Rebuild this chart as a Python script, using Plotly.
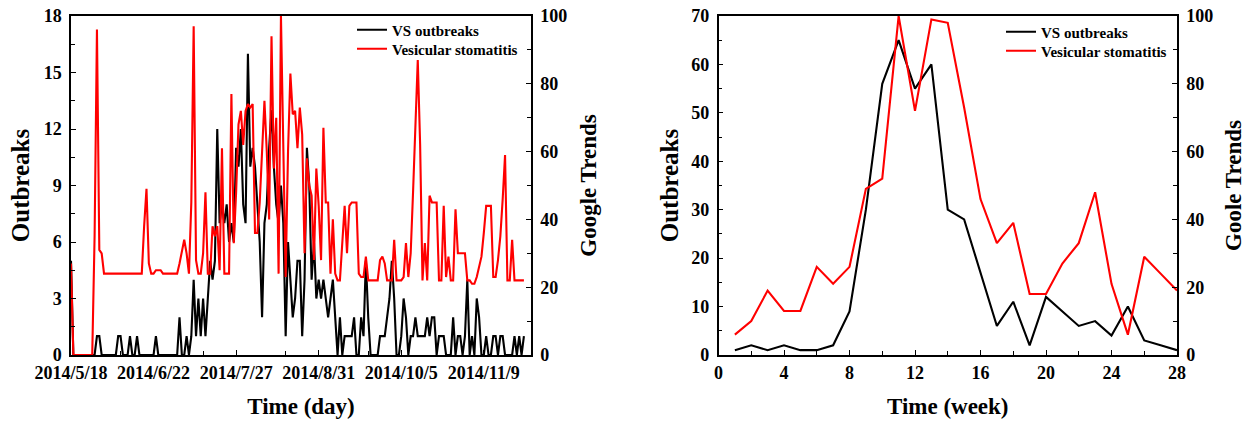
import pandas as pd
import plotly.graph_objects as go

# ---------------- data: left panel (daily, starting 2014-05-18) ----------------
start_date = "2014-05-18"
outbreaks_daily = [
    5, 0, 0, 0, 0, 0, 0, 0, 0, 0,          # d0-9
    0, 1, 1, 0, 0, 0, 0, 0, 0, 0,          # d10-19
    1, 1, 0, 0, 0, 1, 0, 0, 1, 0,          # d20-29
    0, 0, 0, 0, 0, 0, 1, 0, 0, 0,          # d30-39
    0, 0, 0, 0, 0, 0, 2, 0, 0, 1,          # d40-49
    0, 1, 4, 1, 3, 1, 3, 1, 3, 5,          # d50-59
    4, 5, 12, 7, 8, 7, 8, 6, 7, 6,         # d60-69
    11, 10, 12, 8, 7, 16, 10, 11, 10, 8,   # d70-79
    6, 2, 7, 8, 11, 13, 10, 8, 7, 9,       # d80-89
    7, 1, 6, 4, 2, 3, 5, 5, 1, 4,          # d90-99
    11, 9, 4, 6, 3, 4, 3, 4, 3, 2,         # d100-109
    3, 4, 2, 0, 2, 0, 1, 1, 1, 1,          # d110-119
    2, 0, 0, 2, 1, 5, 2, 0, 0, 0,          # d120-129
    0, 1, 1, 1, 2, 3, 5, 3, 0, 0,          # d130-139
    1, 3, 2, 0, 1, 1, 2, 1, 1, 1,          # d140-149
    1, 2, 1, 2, 2, 0, 1, 1, 1, 0,          # d150-159
    0, 0, 2, 0, 1, 1, 0, 1, 4, 0,          # d160-169
    1, 0, 3, 2, 0, 0, 1, 0, 0, 1,          # d170-179
    1, 0, 1, 1, 0, 0, 0, 0, 1, 0,          # d180-189
    1, 0, 1,                               # d190-192
]
trends_daily = [
    27, 0, 0, 0, 0, 0, 0, 0, 0, 0,         # d0-9
    35, 96, 31, 30, 24, 24, 24, 24, 24, 24,  # d10-19
    24, 24, 24, 24, 24, 24, 24, 24, 24, 24,  # d20-29
    24, 38, 49, 27, 24, 24, 25, 25, 25, 24,  # d30-39
    24, 24, 24, 24, 24, 24, 27, 31, 34, 30,  # d40-49
    24, 45, 97, 28, 24, 24, 30, 48, 24, 24,  # d50-59
    38, 35, 38, 25, 61, 24, 24, 24, 77, 33,  # d60-69
    48, 68, 72, 62, 72, 74, 73, 74, 36, 36,  # d70-79
    45, 60, 75, 60, 40, 94, 55, 70, 24, 100,  # d80-89
    55, 23, 60, 83, 71, 72, 61, 73, 65, 30,  # d90-99
    58, 50, 47, 28, 55, 44, 28, 67, 45, 45,  # d100-109
    24, 40, 24, 22, 22, 35, 44, 30, 44, 45,  # d110-119
    45, 45, 24, 23, 23, 29, 22, 22, 22, 22,  # d120-129
    22, 28, 29, 27, 22, 22, 22, 34, 22, 22,  # d130-139
    22, 23, 33, 23, 30, 48, 66, 87, 62, 22,  # d140-149
    33, 22, 47, 45, 45, 45, 22, 22, 44, 23,  # d150-159
    29, 22, 22, 43, 30, 30, 30, 30, 22, 22,  # d160-169
    21, 21, 23, 26, 29, 36, 44, 44, 44, 23,  # d170-179
    23, 28, 35, 46, 59, 22, 22, 34, 22, 22,  # d180-189
    22, 22, 22,                            # d190-192
]
date_tick_vals = ["2014-05-18", "2014-06-22", "2014-07-27", "2014-08-31", "2014-10-05", "2014-11-09"]
date_tick_text = ["2014/5/18", "2014/6/22", "2014/7/27", "2014/8/31", "2014/10/5", "2014/11/9"]
date_minor_vals = ["2014-06-08", "2014-07-13", "2014-08-17", "2014-09-21", "2014-10-26"]
date_range = ["2014-05-18", "2014-11-29"]

# ---------------- data: right panel (weekly) ----------------
weeks = list(range(1, 29))
outbreaks_weekly = [1, 2, 1, 2, 1, 1, 2, 9, 30, 56, 65, 55, 60, 30,
                    28, 17, 6, 11, 2, 12, 9, 6, 7, 4, 10, 3, 2, 1]
trends_weekly = [6, 10, 19, 13, 13, 26, 21, 26, 49, 52, 100, 72, 99, 98,
                 73, 46, 33, 39, 18, 18, 27, 33, 48, 21, 6, 29, 24, 19]

dates = pd.date_range(start_date, periods=len(outbreaks_daily), freq="D")
assert len(outbreaks_daily) == len(trends_daily)

FONT = "Liberation Serif"
W, H = 1251, 421
BLACK = "#000000"
RED = "#FF0000"
LW = 2.1

fig = go.Figure()
fig.add_trace(go.Scatter(x=dates, y=outbreaks_daily, mode="lines", name="VS outbreaks",
                         line=dict(color=BLACK, width=LW), xaxis="x", yaxis="y", legend="legend"))
fig.add_trace(go.Scatter(x=dates, y=trends_daily, mode="lines", name="Vesicular stomatitis",
                         line=dict(color=RED, width=LW), xaxis="x", yaxis="y2", legend="legend2"))
fig.add_trace(go.Scatter(x=weeks, y=outbreaks_weekly, mode="lines", name="VS outbreaks",
                         line=dict(color=BLACK, width=LW), xaxis="x3", yaxis="y3", legend="legend3"))
fig.add_trace(go.Scatter(x=weeks, y=trends_weekly, mode="lines", name="Vesicular stomatitis",
                         line=dict(color=RED, width=LW), xaxis="x3", yaxis="y4", legend="legend4"))

tickfont = dict(family=FONT, size=18, color=BLACK, weight="bold")
titlefont = dict(family=FONT, size=23, color=BLACK, weight="bold")
titlefont_big = dict(family=FONT, size=25, color=BLACK, weight="bold")
common = dict(showline=True, linecolor=BLACK, linewidth=1.5, ticks="inside", ticklen=5,
              tickwidth=1.3, tickcolor=BLACK, showgrid=False, zeroline=False,
              automargin=False, ticklabeloverflow="allow", tickfont=tickfont)
minor_style = dict(ticks="inside", ticklen=4, tickcolor=BLACK, tickwidth=1.2, showgrid=False)

# pixel geometry of the two plot areas
top_px, bottom_px = 16, 355
xl0, xl1 = 71 / W, 531 / W
xr0, xr1 = 718.5 / W, 1177 / W
plot_h = bottom_px - top_px


def py(page_y):
    return 1 - (page_y - top_px) / plot_h


legend_font = dict(family=FONT, size=15, color=BLACK, weight="bold")


def legend_at(page_x_line, page_y):
    return dict(x=(page_x_line - 6) / W, y=py(page_y), xanchor="left", yanchor="middle",
                bgcolor="rgba(0,0,0,0)", font=legend_font, itemwidth=30, borderwidth=0)


fig.update_layout(
    template="none",
    width=W, height=H,
    margin=dict(l=0, r=0, t=top_px, b=H - bottom_px, pad=0),
    paper_bgcolor="white", plot_bgcolor="white",
    xaxis=dict(domain=[xl0, xl1], type="date", range=date_range, anchor="y",
               tickmode="array", tickvals=date_tick_vals, ticktext=date_tick_text,
               minor=dict(tickmode="array", tickvals=date_minor_vals, **minor_style),
               mirror=True, ticklabelstandoff=1,
               title=dict(text="Time (day)", standoff=16, font=titlefont), **common),
    yaxis=dict(range=[0, 18], tick0=0, dtick=3, anchor="x",
               minor=dict(dtick=1.5, **minor_style),
               ticklabelstandoff=4,
               title=dict(text="Outbreaks", standoff=7, font=titlefont_big), **common),
    yaxis2=dict(range=[0, 100], tick0=0, dtick=20, anchor="x", overlaying="y", side="right",
                minor=dict(dtick=10, **minor_style),
                ticklabelstandoff=4,
                title=dict(text="Google Trends", standoff=14, font=titlefont), **common),
    xaxis3=dict(domain=[xr0, xr1], range=[0, 28], tick0=0, dtick=4, anchor="y3",
                minor=dict(dtick=2, **minor_style),
                mirror=True, ticklabelstandoff=1,
                title=dict(text="Time (week)", standoff=16, font=titlefont), **common),
    yaxis3=dict(range=[0, 70], tick0=0, dtick=10, anchor="x3",
                minor=dict(dtick=5, **minor_style),
                ticklabelstandoff=4,
                title=dict(text="Outbreaks", standoff=5, font=titlefont_big), **common),
    yaxis4=dict(range=[0, 100], tick0=0, dtick=20, anchor="x3", overlaying="y3", side="right",
                minor=dict(dtick=10, **minor_style),
                ticklabelstandoff=4,
                title=dict(text="Goole Trends", standoff=13, font=titlefont), **common),
    legend=legend_at(358, 30),
    legend2=legend_at(358, 49),
    legend3=legend_at(1007, 32),
    legend4=legend_at(1007, 51),
    showlegend=True,
)

# remove the default page margin so the figure sits at the window's top-left corner
fig.write_html("out.html", config={"displayModeBar": False},
               post_script="document.body.style.margin='0px';")
